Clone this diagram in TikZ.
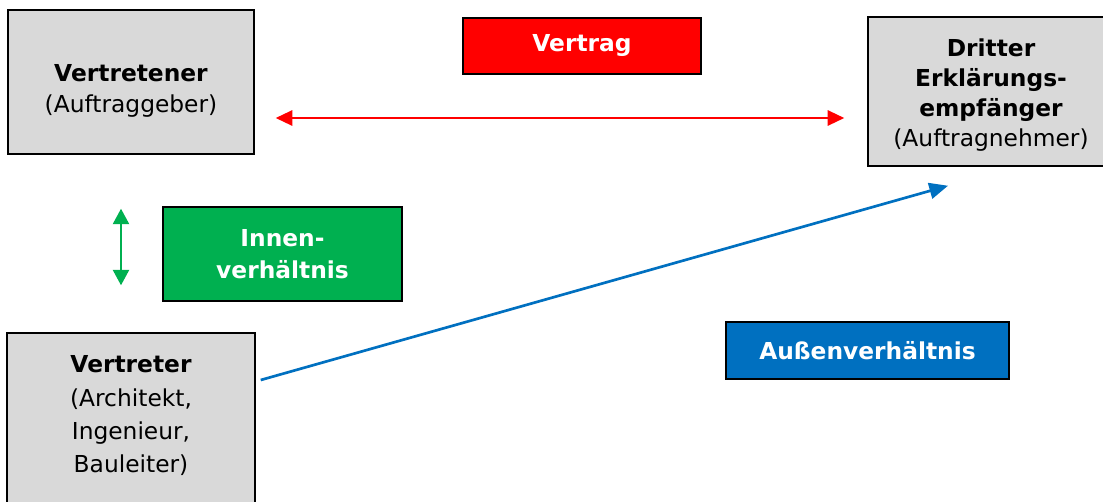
\documentclass[tikz,border=0pt]{standalone}
\usepackage{fontspec}
\setmainfont{DejaVu Sans}
\usetikzlibrary{arrows.meta,calc}
\definecolor{boxgray}{HTML}{D9D9D9}
\definecolor{vred}{HTML}{FF0000}
\definecolor{vgreen}{HTML}{00B050}
\definecolor{vblue}{HTML}{0070C0}
\tikzset{
  graybox/.style={draw=black,line width=1.1pt,fill=boxgray,inner sep=0pt},
  colbox/.style={draw=black,line width=1.3pt,inner sep=0pt,text=white,font=\fontsize{17.5}{24}\selectfont\bfseries,align=center},
  txt/.style={inner sep=0pt,align=center,font=\fontsize{17.5}{22.5}\selectfont},
  redarrow/.style={draw=vred,line width=1.6pt,{Triangle[length=12.5pt,width=11.5pt]}-{Triangle[length=12.5pt,width=11.5pt]}},
  greenarrow/.style={draw=vgreen,line width=1.6pt,{Triangle[length=11.5pt,width=12pt]}-{Triangle[length=11.5pt,width=12pt]}},
  bluearrow/.style={draw=vblue,line width=2pt,-{Triangle[length=14pt,width=12pt]}},
}
\begin{document}
\begin{tikzpicture}[x=0.75pt,y=-0.75pt]
\useasboundingbox (0,0) rectangle (1103,501);
\clip (0,0) rectangle (1103,501);
\fill[white] (0,0) rectangle (1103,501);
% gray boxes
\node[graybox,minimum width=246*0.75pt,minimum height=144*0.75pt] (vn) at (131,82) {};
\node[txt,font=\fontsize{17.5}{23.5}\selectfont] (vntxt) at (131,91) {\textbf{Vertretener}\\(Auftraggeber)};
\node[graybox,minimum width=246*0.75pt,minimum height=149*0.75pt] (dr) at (991,91.5) {};
\node[txt] (drtxt) at (991,95) {\textbf{Dritter}\\\textbf{Erklärungs-}\\\textbf{empfänger}\\(Auftragnehmer)};
\node[graybox,minimum width=248*0.75pt,minimum height=180*0.75pt] (vt) at (131,423) {};
\node[txt,font=\fontsize{17.5}{25}\selectfont] (vttxt) at (131,416) {\textbf{Vertreter}\\(Architekt,\\Ingenieur,\\Bauleiter)};
% coloured labels
\node[colbox,fill=vred,minimum width=238*0.75pt,minimum height=56*0.75pt] (vtr) at (582,46) {Vertrag};
\node[colbox,fill=vgreen,minimum width=239*0.75pt,minimum height=94*0.75pt] (inn) at (282.5,254) {Innen-\\verhältnis};
\node[colbox,fill=vblue,minimum width=283*0.75pt,minimum height=57*0.75pt] (aus) at (867.5,350.5) {Außenverhältnis};
% connectors
\draw[redarrow] ($(vn.east)+(21,36)$) -- ($(dr.west)+(-23,26.5)$);
\draw[greenarrow] ($(vn.south)+(-10,54)$) -- ($(vt.north)+(-10,-47)$);
\draw[bluearrow] ($(vt.east)+(5,-43)$) -- ($(dr.south)+(-43,19)$);
\end{tikzpicture}
\end{document}
